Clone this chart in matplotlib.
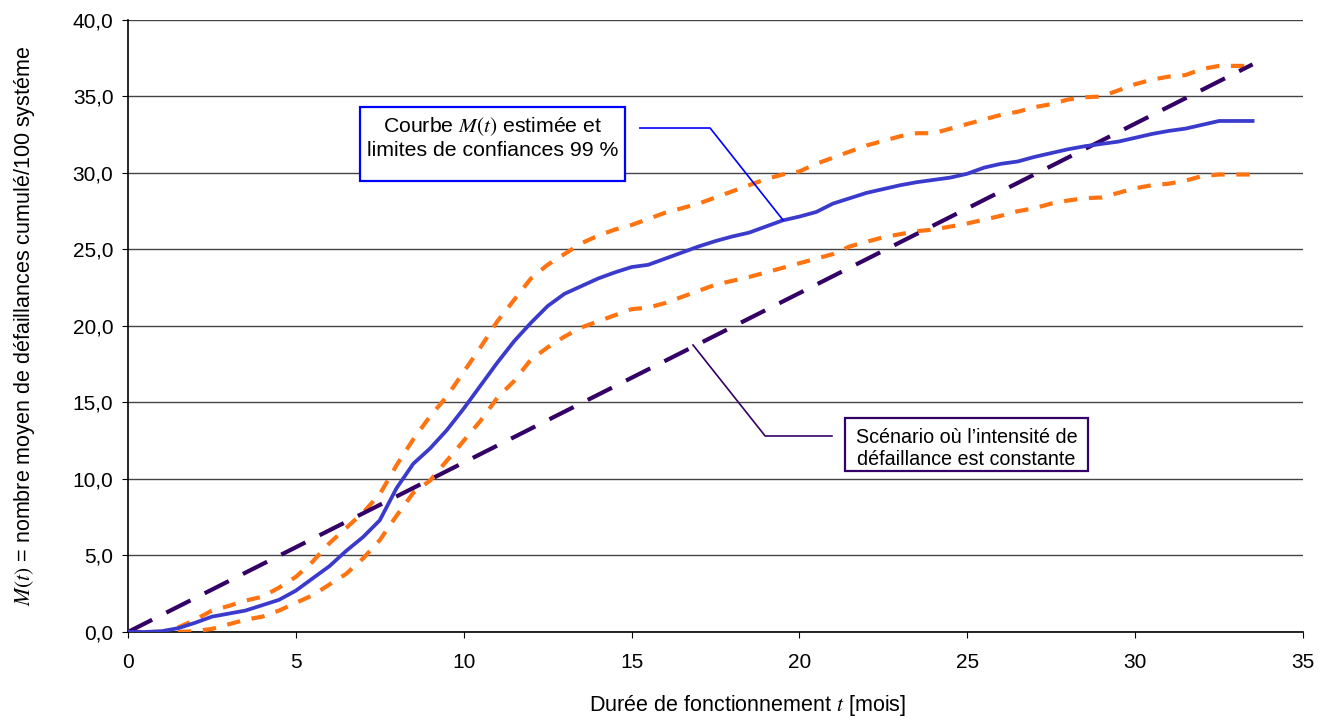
import numpy as np
import matplotlib.pyplot as plt
from matplotlib.patches import Rectangle
from matplotlib.ticker import FuncFormatter

plt.rcParams['font.family'] = ['Liberation Sans', 'DejaVu Sans']
plt.rcParams['mathtext.fontset'] = 'stix'

## data (t in months)
t = [0.0, 0.5, 1.0, 1.5, 2.0, 2.5, 3.0, 3.5, 4.0, 4.5, 5.0, 5.5, 6.0, 6.5, 7.0, 7.5,
     8.0, 8.5, 9.0, 9.5, 10.0, 10.5, 11.0, 11.5, 12.0, 12.5, 13.0, 13.5, 14.0, 14.5,
     15.0, 15.5, 16.0, 16.5, 17.0, 17.5, 18.0, 18.5, 19.0, 19.5, 20.0, 20.5, 21.0,
     21.5, 22.0, 22.5, 23.0, 23.5, 24.0, 24.5, 25.0, 25.5, 26.0, 26.5, 27.0, 27.5,
     28.0, 28.5, 29.0, 29.5, 30.0, 30.5, 31.0, 31.5, 32.0, 32.5, 33.0, 33.5]

m_mean = [0.0, 0.0, 0.05, 0.25, 0.6, 1.0, 1.2, 1.4, 1.75, 2.1, 2.7, 3.5, 4.3, 5.3, 6.2, 7.3,
          9.4, 11.0, 12.0, 13.2, 14.6, 16.1, 17.6, 19.0, 20.2, 21.3, 22.1, 22.6, 23.1, 23.5,
          23.85, 24.0, 24.4, 24.8, 25.2, 25.55, 25.85, 26.1, 26.5, 26.9, 27.15, 27.45, 28.0,
          28.35, 28.7, 28.95, 29.2, 29.4, 29.55, 29.7, 29.95, 30.35, 30.6, 30.75, 31.05, 31.3,
          31.55, 31.75, 31.9, 32.05, 32.3, 32.55, 32.75, 32.9, 33.15, 33.4, 33.4, 33.4]

m_upper = [0.0, 0.0, 0.0, 0.3, 0.8, 1.4, 1.7, 2.05, 2.3, 2.9, 3.6, 4.6, 5.8, 6.8, 7.8, 9.0,
           10.9, 12.6, 14.1, 15.4, 17.0, 18.6, 20.3, 21.7, 23.1, 24.0, 24.7, 25.4, 25.9, 26.3,
           26.6, 27.0, 27.4, 27.7, 28.0, 28.4, 28.8, 29.2, 29.6, 29.9, 30.1, 30.6, 31.0,
           31.4, 31.8, 32.1, 32.4, 32.6, 32.6, 32.9, 33.2, 33.5, 33.8, 34.0, 34.3, 34.5,
           34.8, 34.95, 35.0, 35.4, 35.8, 36.1, 36.3, 36.4, 36.8, 37.0, 37.0, 37.0]

m_lower = [0.0, 0.0, 0.0, 0.0, 0.05, 0.2, 0.5, 0.8, 1.0, 1.4, 1.9, 2.4, 3.1, 3.8, 4.8, 6.0,
           7.6, 9.1, 9.9, 11.2, 12.5, 13.8, 15.3, 16.4, 17.8, 18.6, 19.3, 19.9, 20.3, 20.7,
           21.1, 21.2, 21.5, 21.9, 22.3, 22.7, 22.95, 23.2, 23.5, 23.8, 24.1, 24.4, 24.7,
           25.2, 25.5, 25.8, 26.0, 26.2, 26.3, 26.5, 26.7, 26.95, 27.2, 27.5, 27.7, 28.0,
           28.2, 28.35, 28.4, 28.7, 29.0, 29.2, 29.3, 29.5, 29.8, 29.9, 29.9, 29.9]

# constant failure intensity scenario (straight line)
t_const = [0.0, 33.5]
m_const = [0.0, 37.1]

fig = plt.figure(figsize=(13.29, 7.22), dpi=100)
ax = fig.add_axes([0.0963, 0.1247, 0.8841, 0.8476])

ax.set_xlim(0, 35)
ax.set_ylim(0, 40)
ax.set_xticks(np.arange(0, 36, 5))
ax.set_yticks(np.arange(0, 41, 5))
ax.yaxis.set_major_formatter(FuncFormatter(lambda v, p: ('%.1f' % v).replace('.', ',')))
ax.grid(axis='y', color='#444444', lw=1)
ax.set_axisbelow(True)
for s in ['top', 'right']:
    ax.spines[s].set_visible(False)
ax.spines['left'].set_linewidth(1.2)
ax.spines['bottom'].set_linewidth(1.2)
ax.tick_params(direction='out', length=4.5, labelsize=15)
ax.tick_params(axis='x', pad=11)
ax.tick_params(axis='y', pad=6)

ax.plot(t, m_upper, color='#ff7311', lw=3, dashes=(3.2, 2.8), zorder=3)
ax.plot(t, m_lower, color='#ff7311', lw=3, dashes=(3.2, 2.8), zorder=3)
ax.plot(t_const, m_const, color='#330066', lw=3, dashes=(6.5, 3.8), zorder=4)
ax.plot(t, m_mean, color='#3a3acc', lw=2.7, zorder=5)

# annotation boxes
ax.add_patch(Rectangle((6.91, 29.5), 7.89, 4.8, facecolor='white', edgecolor='#0000ff',
                       lw=1.6, zorder=6))
ax.text(10.855, 32.3, 'Courbe $M(t)$ estimée et\nlimites de confiances 99 %',
        ha='center', va='center', fontsize=15.3, linespacing=1.18, zorder=7)
ax.plot([15.25, 17.34, 19.51], [32.94, 32.94, 26.93], color='#0000ff', lw=1.2, zorder=6)

ax.add_patch(Rectangle((21.36, 10.52), 7.24, 3.47, facecolor='white', edgecolor='#330066',
                       lw=1.6, zorder=6))
ax.text(24.98, 12.0, 'Scénario où l\u2019intensité de\ndéfaillance est constante',
        ha='center', va='center', fontsize=14.2, linespacing=1.17, zorder=7)
ax.plot([20.97, 18.98, 16.83], [12.81, 12.81, 18.76], color='#330066', lw=1.2, zorder=6)

ax.set_xlabel('Durée de fonctionnement $t$ [mois]', fontsize=15.5, labelpad=16)
ax.xaxis.set_label_coords(0.527, -0.1)
ax.set_ylabel('$M(t)$ = nombre moyen de défaillances cumulé/100 systéme', fontsize=15.5,
              labelpad=26)

fig.savefig('out.png', dpi=100)
